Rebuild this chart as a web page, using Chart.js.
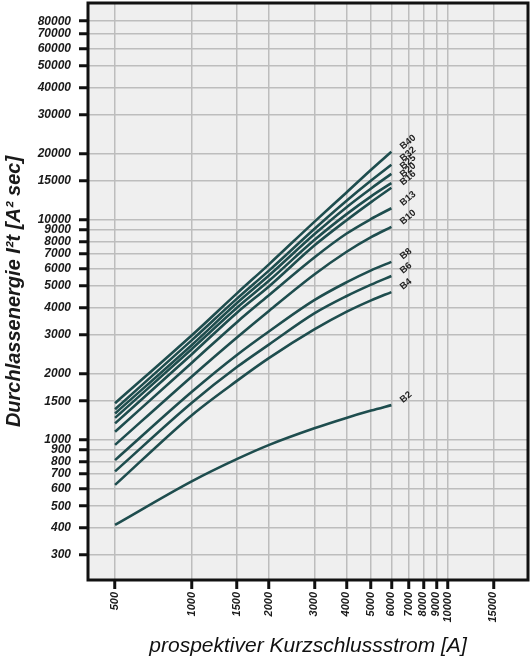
<!DOCTYPE html>
<html>
<head>
    <title>Durchlassenergie</title>
    <meta charset="UTF-8">
    <script src="https://cdn.jsdelivr.net/npm/chart.js@4.4.1/dist/chart.umd.min.js"></script>
    <style>
        html, body { margin: 0; padding: 0; background: #fff; }
        #wrap { width: 531px; height: 659px; }
    </style>
</head>
<body>
<div id="wrap"><canvas id="myChart" width="531" height="659"></canvas></div>
<script>
    // prospektiver Kurzschlussstrom [A]
    let currents = [500, 1000, 1500, 2000, 3000, 4000, 5000, 6000];

    // Durchlassenergie I²t [A² sec] je Automat
    let b40 = [1470, 3000, 4650, 6300, 9800, 13300, 16900, 20400];
    let b32 = [1380, 2850, 4400, 5900, 9100, 12200, 15100, 17800];
    let b25 = [1320, 2710, 4200, 5600, 8600, 11400, 13900, 16200];
    let b20 = [1260, 2600, 4000, 5300, 8100, 10600, 12800, 14700];
    let b16 = [1190, 2460, 3800, 5000, 7650, 9950, 12050, 14000];
    let b13 = [1090, 2250, 3440, 4560, 6750, 8650, 10100, 11300];
    let b10 = [950, 1950, 2930, 3870, 5650, 7150, 8350, 9300];
    let b8 = [810, 1660, 2440, 3120, 4320, 5200, 5900, 6450];
    let b6 = [720, 1480, 2150, 2720, 3760, 4500, 5080, 5560];
    let b4 = [625, 1300, 1860, 2360, 3180, 3820, 4310, 4700];
    let b2 = [411, 650, 820, 950, 1130, 1260, 1360, 1440];

    let seriesNames = ['B40', 'B32', 'B25', 'B20', 'B16', 'B13', 'B10', 'B8', 'B6', 'B4', 'B2'];
    let seriesValues = [b40, b32, b25, b20, b16, b13, b10, b8, b6, b4, b2];

    let xTicks = [500, 1000, 1500, 2000, 3000, 4000, 5000, 6000, 7000, 8000, 9000, 10000, 15000];
    let yTicks = [300, 400, 500, 600, 700, 800, 900, 1000, 1500, 2000, 3000, 4000, 5000, 6000,
        7000, 8000, 9000, 10000, 15000, 20000, 30000, 40000, 50000, 60000, 70000, 80000];

    const FONT = "'Liberation Sans', Arial, sans-serif";
    const LINE = '#1e4d4e';

    // Hintergrund und Rahmen der Zeichenfläche
    const frame = {
        id: 'frame',
        beforeDraw(chart) {
            const {ctx, chartArea: a} = chart;
            ctx.save();
            ctx.fillStyle = '#efefef';
            ctx.fillRect(a.left, a.top, a.right - a.left, a.bottom - a.top);
            ctx.restore();
        },
        afterDraw(chart) {
            const {ctx, chartArea: a} = chart;
            ctx.save();
            ctx.strokeStyle = '#111';
            ctx.lineWidth = 3;
            ctx.strokeRect(a.left, a.top, a.right - a.left, a.bottom - a.top);
            ctx.restore();
        }
    };

    // Beschriftung am Ende jeder Kurve
    const endLabels = {
        id: 'endLabels',
        afterDatasetsDraw(chart) {
            const {ctx} = chart;
            let ends = chart.data.datasets.map(function (ds, i) {
                let pts = chart.getDatasetMeta(i).data;
                let p = pts[pts.length - 1];
                return {name: ds.label, x: p.x, y: p.y};
            });
            ends.sort(function (a, b) { return b.y - a.y; });
            let prev = null;
            ctx.save();
            ctx.font = 'bold 9.5px ' + FONT;
            ctx.fillStyle = '#222';
            ctx.textBaseline = 'middle';
            ends.forEach(function (e) {
                let ly = e.y - 4;
                if (prev !== null && ly > prev - 8) ly = prev - 8;
                prev = ly;
                ctx.save();
                ctx.translate(e.x + 10, ly);
                ctx.rotate(-40 * Math.PI / 180);
                ctx.fillText(e.name, 0, 0);
                ctx.restore();
            });
            ctx.restore();
        }
    };

    let datasets = seriesNames.map(function (name, i) {
        return {
            label: name,
            data: currents.map(function (c, j) { return {x: c, y: seriesValues[i][j]}; }),
            borderColor: LINE,
            backgroundColor: LINE,
            borderWidth: 2.6,
            pointRadius: 0,
            fill: false,
            cubicInterpolationMode: 'monotone'
        };
    });

    let ctx = document.getElementById('myChart').getContext('2d');
    let myChart = new Chart(ctx, {
        type: 'line',
        data: {datasets: datasets},
        plugins: [frame, endLabels],
        options: {
            responsive: false,
            animation: false,
            layout: {padding: {top: 3, right: 3, left: 0, bottom: 0}},
            plugins: {
                legend: {display: false},
                tooltip: {enabled: false}
            },
            scales: {
                x: {
                    type: 'logarithmic',
                    min: 392,
                    max: 20500,
                    afterBuildTicks: function (scale) {
                        scale.ticks = xTicks.map(function (v) { return {value: v}; });
                    },
                    afterFit: function (scale) {
                        scale.height = 79;
                        scale.paddingLeft = 0;
                        scale.paddingRight = 0;
                    },
                    ticks: {
                        autoSkip: false,
                        minRotation: 90,
                        maxRotation: 90,
                        padding: 3,
                        color: '#1a1a1a',
                        font: {family: FONT, size: 11, style: 'italic', weight: 'bold'},
                        callback: function (v) { return String(v); }
                    },
                    grid: {
                        color: '#bdbdbd',
                        lineWidth: 1.5,
                        tickColor: '#111',
                        tickWidth: 3,
                        tickLength: 9
                    },
                    border: {display: false},
                    title: {
                        display: true,
                        text: 'prospektiver Kurzschlussstrom [A]',
                        color: '#111',
                        padding: {top: 0, bottom: 0},
                        font: {family: FONT, size: 21, style: 'italic'}
                    }
                },
                y: {
                    type: 'logarithmic',
                    min: 231,
                    max: 96800,
                    afterBuildTicks: function (scale) {
                        scale.ticks = yTicks.map(function (v) { return {value: v}; });
                    },
                    afterFit: function (scale) {
                        scale.width = 88;
                        scale.paddingTop = 0;
                        scale.paddingBottom = 0;
                    },
                    ticks: {
                        autoSkip: false,
                        padding: 8,
                        color: '#1a1a1a',
                        font: {family: FONT, size: 12, style: 'italic', weight: 'bold'},
                        callback: function (v) { return String(v); }
                    },
                    grid: {
                        color: '#bdbdbd',
                        lineWidth: 1.5,
                        tickColor: '#111',
                        tickWidth: 3,
                        tickLength: 9
                    },
                    border: {display: false},
                    title: {
                        display: true,
                        text: 'Durchlassenergie I²t [A² sec]',
                        color: '#1a1a1a',
                        padding: {top: 2, bottom: 0},
                        font: {family: FONT, size: 20, style: 'italic', weight: 'bold'}
                    }
                }
            }
        }
    });
</script>
</body>
</html>
